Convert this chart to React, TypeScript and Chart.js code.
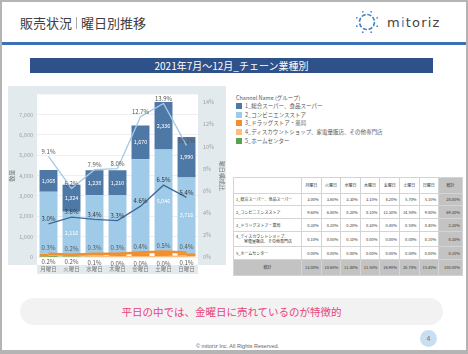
import React, { useEffect, useRef } from 'react';
import { Chart, registerables } from 'chart.js';
Chart.register(...registerables);

const days = ['月曜日', '火曜日', '水曜日', '木曜日', '金曜日', '土曜日', '日曜日'];
const superVals = [1068, 1324, 1238, 1210, 1670, 2336, 1990];
const convVals = [3052, 2116, 2892, 2920, 4616, 5046, 3716];
const drugVals = [110, 90, 100, 100, 150, 200, 160];
const discVals = [40, 20, 40, 30, 30, 40, 30];
const homeVals = [5, 0, 0, 0, 5, 5, 0];
const convLabelShown = [false, true, false, false, false, true, true];

const superShare = [3.0, 3.6, 3.4, 3.3, 4.6, 6.5, 5.4];
const convShare = [9.1, 6.2, 7.9, 8.0, 12.7, 13.9, 10.1];
const drugShare = [0.3, 0.2, 0.3, 0.3, 0.4, 0.5, 0.4];
const discShare = [0.2, 0.2, 0.1, 0.0, 0.0, 0.0, 0.1];
const homeShare = [0.0, 0.0, 0.0, 0.0, 0.0, 0.0, 0.0];

const leftTicks = [0, 1000, 2000, 3000, 4000, 5000, 6000, 7000];
const rightTicks = [0, 2, 4, 6, 8, 10, 12, 14];

const channels = [
  '1_総合スーパー、食品スーパー',
  '2_コンビニエンスストア',
  '3_ドラッグストア・薬局',
  '4_ディスカウントショップ、家電量販店、その他専門店',
  '5_ホームセンター',
];
const channelColors = ['#4e79a7', '#a0cbe8', '#f28e2b', '#ffbe7d', '#59a14f'];

const tableRowLabels = [
  ['1_総合スーパー、食品スーパー'],
  ['2_コンビニエンスストア'],
  ['3_ドラッグストア・薬局'],
  ['4_ディスカウントショップ、', '家電量販店、その他専門店'],
  ['5_ホームセンター'],
];
const tableHeader = ['月曜日', '火曜日', '水曜日', '木曜日', '金曜日', '土曜日', '日曜日', '総計'];
const tableRow1 = ['3.00%', '3.60%', '3.30%', '3.10%', '4.20%', '5.70%', '5.10%', '28.00%'];
const tableRow2 = ['9.60%', '6.80%', '8.20%', '8.10%', '12.30%', '14.50%', '9.80%', '69.30%'];
const tableRow3 = ['0.30%', '0.20%', '0.20%', '0.30%', '0.40%', '0.50%', '0.40%', '2.30%'];
const tableRow4 = ['0.10%', '0.00%', '0.10%', '0.00%', '0.00%', '0.00%', '0.10%', '0.30%'];
const tableRow5 = ['0.00%', '0.00%', '0.00%', '0.00%', '0.00%', '0.00%', '0.00%', '0.10%'];
const tableTotal = ['13.00%', '10.60%', '11.80%', '11.50%', '16.90%', '20.70%', '15.40%', '100.00%'];

const FONT = "'Noto Sans CJK JP', 'Noto Sans', sans-serif";
const BAND = '#e2eaed';

const bgPlugin = {
  id: 'bgBands',
  beforeDraw(chart: any) {
    const { ctx, chartArea: a, width } = chart;
    ctx.save();
    ctx.fillStyle = BAND;
    ctx.fillRect(0, 0, width, a.bottom + 8);
    ctx.fillStyle = '#ffffff';
    ctx.fillRect(a.left, a.top, a.right - a.left, a.bottom + 8 - a.top);
    ctx.fillStyle = BAND;
    ctx.fillRect(a.left, a.bottom + 8, a.right - a.left, 9);
    ctx.restore();
  },
};

const labelPlugin = {
  id: 'valueLabels',
  afterDatasetsDraw(chart: any) {
    const ctx = chart.ctx;
    chart.data.datasets.forEach((ds: any, i: number) => {
      const cfg = ds.labelCfg;
      if (!cfg) return;
      const meta = chart.getDatasetMeta(i);
      ctx.save();
      ctx.font = `${cfg.size}px ${FONT}`;
      ctx.fillStyle = cfg.color;
      ctx.textAlign = 'center';
      ctx.textBaseline = 'middle';
      meta.data.forEach((el: any, j: number) => {
        if (cfg.show && !cfg.show[j]) return;
        const v = ds.data[j];
        let y;
        if (cfg.kind === 'bar') y = (el.y + el.base) / 2;
        else y = el.y + cfg.dy;
        ctx.fillText(cfg.fmt(v), el.x, y);
      });
      ctx.restore();
    });
  },
};

const fmtNum = (v: number) => v.toLocaleString('en-US');
const fmtPct = (v: number) => v.toFixed(1) + '%';

function ChartBox() {
  const ref = useRef<HTMLCanvasElement>(null);
  useEffect(() => {
    Chart.defaults.font.family = FONT;
    const barCommon = { type: 'bar', stack: 's', yAxisID: 'y', order: 1, barPercentage: 0.78, categoryPercentage: 1 };
    const lineCommon = { type: 'line', yAxisID: 'y1', order: 0, pointRadius: 0, tension: 0, fill: false };
    const chart = new Chart(ref.current!, {
      type: 'bar',
      data: {
        labels: days,
        datasets: [
          { ...barCommon, label: channels[4], data: homeVals, backgroundColor: channelColors[4] },
          { ...barCommon, label: channels[3], data: discVals, backgroundColor: channelColors[3] },
          { ...barCommon, label: channels[2], data: drugVals, backgroundColor: channelColors[2] },
          { ...barCommon, label: channels[1], data: convVals, backgroundColor: channelColors[1],
            labelCfg: { kind: 'bar', size: 5.5, color: '#ffffff', fmt: fmtNum, show: convLabelShown } },
          { ...barCommon, label: channels[0], data: superVals, backgroundColor: channelColors[0],
            labelCfg: { kind: 'bar', size: 5.5, color: '#ffffff', fmt: fmtNum } },
          { ...lineCommon, label: channels[1], data: convShare, borderColor: '#a6c9e8', borderWidth: 1.3,
            labelCfg: { kind: 'line', size: 6, color: '#555555', fmt: fmtPct, dy: -5 } },
          { ...lineCommon, label: channels[0], data: superShare, borderColor: '#3f6a9b', borderWidth: 1.3,
            labelCfg: { kind: 'line', size: 6, color: '#333333', fmt: fmtPct, dy: -5 } },
          { ...lineCommon, label: channels[2], data: drugShare, borderColor: '#f28e2b', borderWidth: 2.5,
            labelCfg: { kind: 'line', size: 6, color: '#555555', fmt: fmtPct, dy: -6 } },
          { ...lineCommon, label: channels[3], data: discShare, borderColor: '#ffbe7d', borderWidth: 2,
            labelCfg: { kind: 'line', size: 6, color: '#555555', fmt: fmtPct, dy: 7 } },
          { ...lineCommon, label: channels[4], data: homeShare, borderColor: '#59a14f', borderWidth: 0.8 },
        ] as any,
      },
      options: {
        responsive: false,
        animation: false,
        layout: { padding: { top: 6, left: 0, right: 0, bottom: 0 } },
        plugins: { legend: { display: false }, tooltip: { enabled: false } },
        scales: {
          x: {
            stacked: true,
            grid: { display: false, drawTicks: false },
            border: { display: false },
            ticks: { font: { size: 5.5 }, color: '#777777', padding: 9, maxRotation: 0 },
            afterFit: (s: any) => { s.height = 18; },
          },
          y: {
            stacked: true,
            position: 'left',
            min: 0,
            max: 8000,
            afterBuildTicks: (s: any) => { s.ticks = leftTicks.map((v) => ({ value: v })); },
            ticks: { font: { size: 5.5 }, color: '#a0a0a0', padding: 4, callback: (v: any) => fmtNum(Number(v)) },
            grid: { color: '#efefef', drawTicks: false },
            border: { display: false },
            title: { display: true, text: '数量', font: { size: 6 }, color: '#777777', padding: { top: 0, bottom: 0 } },
            afterFit: (s: any) => { s.width = 29; },
          },
          y1: {
            position: 'right',
            min: 0,
            max: 14.72,
            afterBuildTicks: (s: any) => { s.ticks = rightTicks.map((v) => ({ value: v })); },
            ticks: { font: { size: 5.5 }, color: '#a0a0a0', padding: 5, callback: (v: any) => v + '%' },
            grid: { display: false, drawTicks: false },
            border: { display: false },
            title: { display: true, text: '曜日構成比', font: { size: 6 }, color: '#777777', padding: { top: 0, bottom: 0 } },
            afterFit: (s: any) => { s.width = 28; },
          },
        },
      } as any,
      plugins: [bgPlugin, labelPlugin],
    });
    return () => chart.destroy();
  }, []);
  return <canvas ref={ref} width={218} height={189} style={{ position: 'absolute', left: 8, top: 86, width: 218, height: 189 }} />;
}

function Logo() {
  const dots = [];
  for (let i = 0; i < 8; i++) {
    const a = (Math.PI * 2 * i) / 8 + Math.PI / 8;
    dots.push(<circle key={i} cx={12 + Math.cos(a) * 11} cy={12 + Math.sin(a) * 11} r={0.9} fill="#4a86c8" />);
  }
  return (
    <div style={{ position: 'absolute', left: 355, top: 10, display: 'flex', alignItems: 'center' }}>
      <svg width={24} height={24} viewBox="0 0 24 24">
        <circle cx={12} cy={12} r={7.5} fill="none" stroke="#3f7fc4" strokeWidth={1.6} strokeDasharray="4.2 1.7" />
        {dots}
      </svg>
      <span style={{ marginLeft: 8, fontFamily: "'DejaVu Sans', sans-serif", fontSize: 13, letterSpacing: 1.2, color: '#444' }}>
        m<span style={{ color: '#3f7fc4' }}>i</span>toriz
      </span>
    </div>
  );
}

function Legend() {
  return (
    <div style={{ position: 'absolute', left: 236, top: 94, fontFamily: FONT, fontSize: 5.5, color: '#555' }}>
      <div style={{ height: 8, lineHeight: '8px' }}>Channel Name (グループ)</div>
      {channels.map((c, i) => (
        <div key={i} style={{ display: 'flex', alignItems: 'center', height: 8.6 }}>
          <div style={{ width: 6, height: 6, background: channelColors[i], marginRight: 3 }} />
          <span>{c}</span>
        </div>
      ))}
    </div>
  );
}

function DataTable() {
  const rows = [tableRow1, tableRow2, tableRow3, tableRow4, tableRow5];
  const rowH = [12, 13, 13, 15, 13];
  const cell: React.CSSProperties = { border: '1px solid #d4d4d4', padding: 0, fontSize: 4, lineHeight: '5px', overflow: 'hidden' };
  const grey = '#c3c3c3';
  return (
    <table style={{ position: 'absolute', left: 233, top: 177, width: 229, borderCollapse: 'collapse', tableLayout: 'fixed', fontFamily: FONT, color: '#333' }}>
      <colgroup>
        <col style={{ width: 68 }} />
        {tableHeader.slice(0, 7).map((_, i) => <col key={i} style={{ width: 19.6 }} />)}
        <col style={{ width: 23.8 }} />
      </colgroup>
      <tbody>
        <tr style={{ height: 16 }}>
          <td style={cell}></td>
          {tableHeader.map((h, i) => (
            <td key={i} style={{ ...cell, textAlign: 'center', background: i === 7 ? grey : '#fff' }}>{h}</td>
          ))}
        </tr>
        {rows.map((r, ri) => (
          <tr key={ri} style={{ height: rowH[ri] }}>
            <td style={{ ...cell, paddingLeft: 2 }}>
              {tableRowLabels[ri].map((t, k) => <div key={k} style={{ paddingLeft: k > 0 ? 8 : 0 }}>{t}</div>)}
            </td>
            {r.map((v, i) => (
              <td key={i} style={{ ...cell, textAlign: 'right', paddingRight: 2, background: i === 7 ? grey : '#fff' }}>{v}</td>
            ))}
          </tr>
        ))}
        <tr style={{ height: 16 }}>
          <td style={{ ...cell, textAlign: 'center', background: grey }}>総計</td>
          {tableTotal.map((v, i) => (
            <td key={i} style={{ ...cell, textAlign: 'right', paddingRight: 2, background: grey }}>{v}</td>
          ))}
        </tr>
      </tbody>
    </table>
  );
}

export default function App() {
  return (
    <div style={{ position: 'absolute', left: 0, top: 0, width: 468, height: 354, background: '#b4b4b4', overflow: 'hidden' }}>
      <div style={{ position: 'absolute', left: 2, top: 2, width: 464, height: 348, background: '#ffffff' }} />
      <div style={{ position: 'absolute', left: 20, top: 14, fontFamily: FONT, fontSize: 13, color: '#404040', display: 'flex', alignItems: 'center', lineHeight: '18px' }}>
        <span>販売状況</span>
        <span style={{ display: 'inline-block', width: 1, height: 12, background: '#aaa', margin: '0 4px' }} />
        <span>曜日別推移</span>
      </div>
      <Logo />
      <div style={{ position: 'absolute', left: 2, top: 42, width: 464, height: 3, background: '#3a72b8' }} />
      <div style={{ position: 'absolute', left: 30, top: 58, width: 403, height: 15, background: '#2f5189', color: '#fff', fontFamily: FONT, fontSize: 10, lineHeight: '15px', textAlign: 'center' }}>
        2021年7月～12月_チェーン業種別
      </div>
      <ChartBox />
      <Legend />
      <DataTable />
      <div style={{ position: 'absolute', left: 20, top: 298, width: 423, height: 27, borderRadius: 14, background: '#f2f2f2', color: '#e5457a', fontFamily: FONT, fontSize: 10.5, lineHeight: '27px', textAlign: 'center' }}>
        平日の中では、金曜日に売れているのが特徴的
      </div>
      <div style={{ position: 'absolute', left: 420, top: 330, width: 17, height: 17, borderRadius: '50%', background: '#c9def2', color: '#777', fontFamily: FONT, fontSize: 7, lineHeight: '17px', textAlign: 'center' }}>4</div>
      <div style={{ position: 'absolute', left: 0, top: 343, width: 475, textAlign: 'center', fontFamily: "'Liberation Sans', Arial, sans-serif", fontSize: 5.5, color: '#666' }}>
        © mitoriz Inc. All Rights Reserved.
      </div>
    </div>
  );
}
